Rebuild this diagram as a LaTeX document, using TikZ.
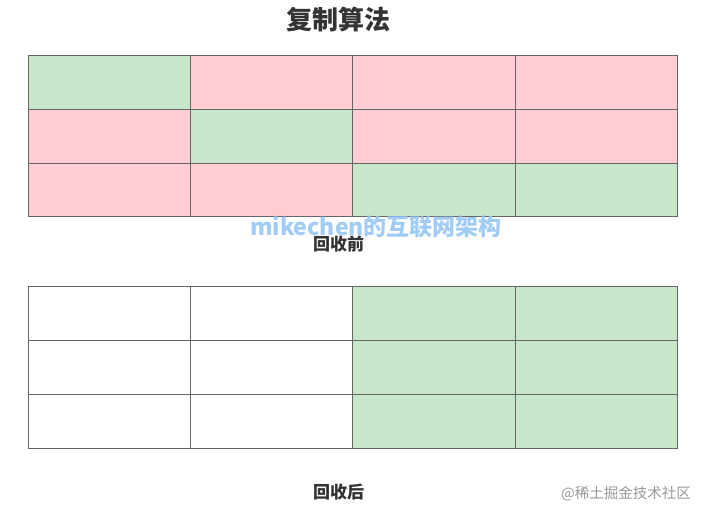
\documentclass[tikz,border=0pt]{standalone}
\usepackage{fontspec}
\newfontfamily\cjk{Noto Sans CJK SC}
\definecolor{cellgreen}{HTML}{C8E6C9}
\definecolor{cellpink}{HTML}{FFCDD2}
\definecolor{cellborder}{HTML}{666666}
\definecolor{textdark}{HTML}{333333}
\definecolor{wmblue}{HTML}{90C4F4}
\begin{document}
\begin{tikzpicture}[x=1pt,y=-1pt,
  cell/.style={draw=cellborder,line width=0.9pt},
  g/.style={cell,fill=cellgreen},
  p/.style={cell,fill=cellpink},
  w/.style={cell,fill=white},
  lbl/.style={font=\cjk\bfseries\fontsize{17}{17}\selectfont,text=textdark,inner sep=0pt}]
\useasboundingbox (0,0) rectangle (708,516);
\fill[white] (0,0) rectangle (708,516);
% top grid
\foreach \y/\yy/\a/\b/\c/\d in {55/109/g/p/p/p, 109/163/p/g/p/p, 163/216/p/p/g/g}{
  \path[\a] (28,\y) rectangle (190,\yy);
  \path[\b] (190,\y) rectangle (352,\yy);
  \path[\c] (352,\y) rectangle (515,\yy);
  \path[\d] (515,\y) rectangle (677,\yy);
}
% bottom grid
\foreach \y/\yy in {286/340, 340/394, 394/448}{
  \path[w] (28,\y) rectangle (190,\yy);
  \path[w] (190,\y) rectangle (352,\yy);
  \path[g] (352,\y) rectangle (515,\yy);
  \path[g] (515,\y) rectangle (677,\yy);
}
\node[font=\cjk\bfseries\fontsize{26}{26}\selectfont,text=textdark,inner sep=0pt] (title) at (338.5,19.5) {复制算法};
\node[lbl] (before) at (338.5,244.5) {回收前};
\node[lbl] (after) at (338.5,492) {回收后};
\node[font=\cjk\bfseries\fontsize{23}{23}\selectfont,text=wmblue,opacity=0.85,inner sep=0pt] (wm) at (376,227) {mikechen的互联网架构};
\node[font=\cjk\fontsize{14.5}{14.5}\selectfont,text=black!40,inner sep=0pt] (src) at (626,494) {@稀土掘金技术社区};
\end{tikzpicture}
\end{document}
